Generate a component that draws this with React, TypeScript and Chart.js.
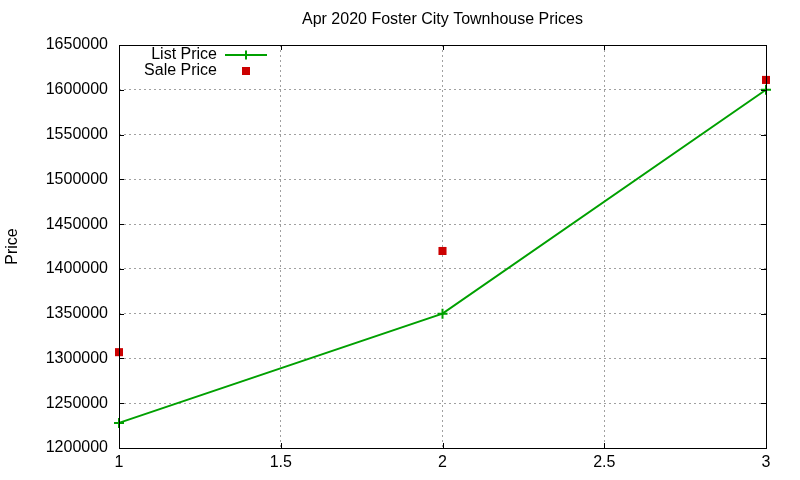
import React, { useEffect, useRef } from "react";
import { Chart, registerables } from "chart.js";

Chart.register(...registerables);

const xValues = [1, 2, 3];
const listPrices = [1228000, 1350000, 1600000];
const salePrices = [1307000, 1420000, 1611000];
const chartTitle = "Apr 2020 Foster City Townhouse Prices";
const yTitle = "Price";
const listLabel = "List Price";
const saleLabel = "Sale Price";

const GREEN = "#00a000";
const RED = "#cc0000";
const FONT = "Liberation Sans, Arial, sans-serif";
const FS = 16;

const decor = {
  id: "decor",
  afterDraw(chart: any) {
    const { ctx, chartArea: a, scales } = chart;
    ctx.save();
    ctx.strokeStyle = "#000";
    ctx.lineWidth = 1;
    ctx.setLineDash([]);
    ctx.strokeRect(Math.round(a.left) + 0.5, Math.round(a.top) + 0.5, Math.round(a.right - a.left), Math.round(a.bottom - a.top));
    const tl = 5;
    ctx.beginPath();
    scales.y.ticks.forEach((t: any) => {
      const y = Math.round(scales.y.getPixelForValue(t.value)) + 0.5;
      ctx.moveTo(a.left, y); ctx.lineTo(a.left + tl, y);
      ctx.moveTo(a.right, y); ctx.lineTo(a.right - tl, y);
    });
    scales.x.ticks.forEach((t: any) => {
      const x = Math.round(scales.x.getPixelForValue(t.value)) + 0.5;
      ctx.moveTo(x, a.bottom); ctx.lineTo(x, a.bottom - tl);
      ctx.moveTo(x, a.top); ctx.lineTo(x, a.top + tl);
    });
    ctx.stroke();
    ctx.fillStyle = "#000";
    ctx.font = `${FS}px ${FONT}`;
    ctx.textAlign = "center";
    ctx.textBaseline = "middle";
    ctx.fillText(chartTitle, (a.left + a.right) / 2, 20);
    ctx.save();
    ctx.translate(13, (a.top + a.bottom) / 2);
    ctx.rotate(-Math.PI / 2);
    ctx.fillText(yTitle, 0, 0);
    ctx.restore();
    ctx.textAlign = "right";
    ctx.fillText(listLabel, 217, 55);
    ctx.fillText(saleLabel, 217, 71);
    ctx.strokeStyle = GREEN;
    ctx.lineWidth = 2;
    ctx.beginPath();
    ctx.moveTo(225, 55); ctx.lineTo(267, 55);
    ctx.moveTo(246, 50.5); ctx.lineTo(246, 59.5);
    ctx.stroke();
    ctx.fillStyle = RED;
    ctx.fillRect(242, 67, 8, 8);
    ctx.restore();
  },
};

export default function App() {
  const ref = useRef<HTMLCanvasElement | null>(null);
  useEffect(() => {
    if (!ref.current) return;
    const chart = new Chart(ref.current, {
      type: "line",
      data: {
        datasets: [
          {
            label: listLabel,
            data: xValues.map((x, i) => ({ x, y: listPrices[i] })),
            borderColor: GREEN,
            backgroundColor: GREEN,
            borderWidth: 2,
            pointStyle: "cross",
            pointRadius: 5,
            pointBorderWidth: 2,
            tension: 0,
            order: 2,
          },
          {
            label: saleLabel,
            data: xValues.map((x, i) => ({ x, y: salePrices[i] })),
            showLine: false,
            borderColor: RED,
            backgroundColor: RED,
            pointStyle: "rect",
            pointRadius: 5.7,
            pointBorderWidth: 0,
            order: 1,
          },
        ],
      },
      options: {
        animation: false,
        responsive: false,
        clip: false as any,
        layout: { padding: { left: 0, right: 34, top: 45, bottom: 0 } },
        plugins: { legend: { display: false }, title: { display: false }, tooltip: { enabled: false } },
        scales: {
          x: {
            type: "linear",
            min: 1,
            max: 3,
            ticks: { stepSize: 0.5, color: "#000", font: { family: FONT, size: FS }, padding: 5, maxRotation: 0, callback: (v: any) => String(v) },
            grid: { color: "#a0a0a0", tickLength: 0, drawTicks: false },
            border: { display: false, dash: [2, 3] } as any,
            afterFit: (s: any) => { s.height = 32; },
          },
          y: {
            type: "linear",
            min: 1200000,
            max: 1650000,
            ticks: { stepSize: 50000, color: "#000", font: { family: FONT, size: FS }, padding: 11, callback: (v: any) => String(v) },
            grid: { color: "#a0a0a0", drawTicks: false },
            border: { display: false, dash: [2, 3] } as any,
            afterFit: (s: any) => { s.width = 119; },
          },
        },
      },
      plugins: [decor],
    });
    return () => chart.destroy();
  }, []);
  return (
    <div style={{ position: "fixed", left: 0, top: 0, width: 800, height: 480, background: "#fff" }}>
      <canvas ref={ref} width={800} height={480} style={{ width: 800, height: 480 }} />
    </div>
  );
}
